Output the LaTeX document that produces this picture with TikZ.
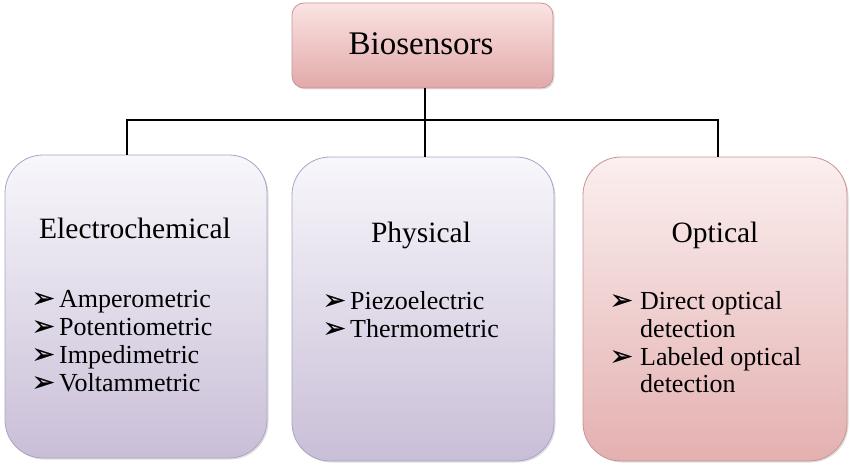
\documentclass[tikz,border=0pt]{standalone}
\usepackage{fontspec}
\setmainfont{Liberation Serif}
\newfontfamily\symfont[FakeBold=1.2]{DejaVu Sans}
\usetikzlibrary{shadows}
\definecolor{ptop}{HTML}{F8F7FB}
\definecolor{pbot}{HTML}{C9BED7}
\definecolor{pborder}{HTML}{A9A3C9}
\definecolor{rtop}{HTML}{FBEFEF}
\definecolor{rbot}{HTML}{E4B0B0}
\definecolor{rborder}{HTML}{C99393}
\definecolor{ttop}{HTML}{FBE3E3}
\definecolor{tbot}{HTML}{E2A9A9}
\tikzset{
  x=1pt, y=-1pt,
  purplebox/.style={draw=pborder, line width=0.8pt, rounded corners=38pt,
    top color=ptop, bottom color=pbot,
    drop shadow={opacity=0.25, shadow xshift=1.5pt, shadow yshift=-1.5pt}},
  pinkbox/.style={draw=rborder, line width=0.8pt, rounded corners=38pt,
    top color=rtop, bottom color=rbot,
    drop shadow={opacity=0.25, shadow xshift=1.5pt, shadow yshift=-1.5pt}},
  topbox/.style={draw=rborder, line width=0.8pt, rounded corners=12pt,
    top color=ttop, bottom color=tbot,
    drop shadow={opacity=0.25, shadow xshift=1.5pt, shadow yshift=-1.5pt}},
  title/.style={font=\fontsize{29.5pt}{30pt}\selectfont, inner sep=0pt, anchor=base},
  item/.style={font=\fontsize{26pt}{28pt}\selectfont, inner sep=0pt, anchor=base west},
  bullet/.style={font=\symfont\fontsize{27pt}{28pt}\selectfont, inner sep=0pt, anchor=base west},
  wire/.style={line width=2pt, black}
}
\begin{document}
\begin{tikzpicture}
\useasboundingbox (0,0) rectangle (850,468);
% boxes
\path[topbox] (292,3) rectangle (553,88);
\node[anchor=base] (bio) at (421,55) {\fontsize{33pt}{34pt}\selectfont Biosensors};
\coordinate (biobot) at (425,88);
\path[purplebox] (5,155) rectangle (267,458);
\path[purplebox] (292,157) rectangle (554,461);
\path[pinkbox] (583,157) rectangle (847,461);
\coordinate (elec) at (127,155);
\coordinate (phys) at (425,157);
\coordinate (opt) at (718,157);
\coordinate (bus) at (425,120);
% connectors
\draw[wire] (biobot) -- (phys);
\draw[wire] (elec) |- (bus) -| (opt);
% titles
\node[title] (t1) at (135,238) {Electrochemical};
\node[title] (t2) at (421,242) {Physical};
\node[title] (t3) at (715,242) {Optical};
% Electrochemical list
\node[bullet] (b11) at (32,307) {➢};
\node[item] (i11) at (59,307) {Amperometric};
\node[bullet] (b12) at (32,335) {➢};
\node[item] (i12) at (59,335) {Potentiometric};
\node[bullet] (b13) at (32,363) {➢};
\node[item] (i13) at (59,363) {Impedimetric};
\node[bullet] (b14) at (32,391) {➢};
\node[item] (i14) at (59,391) {Voltammetric};
% Physical list
\node[bullet] (b21) at (323,309) {➢};
\node[item] (i21) at (350,309) {Piezoelectric};
\node[bullet] (b22) at (323,337) {➢};
\node[item] (i22) at (350,337) {Thermometric};
% Optical list
\node[bullet] (b31) at (610,309) {➢};
\node[item] (i31) at (640,309) {Direct optical};
\node[item] (i32) at (640,337) {detection};
\node[bullet] (b33) at (610,365) {➢};
\node[item] (i33) at (640,365) {Labeled optical};
\node[item] (i34) at (640,392) {detection};
\end{tikzpicture}
\end{document}
